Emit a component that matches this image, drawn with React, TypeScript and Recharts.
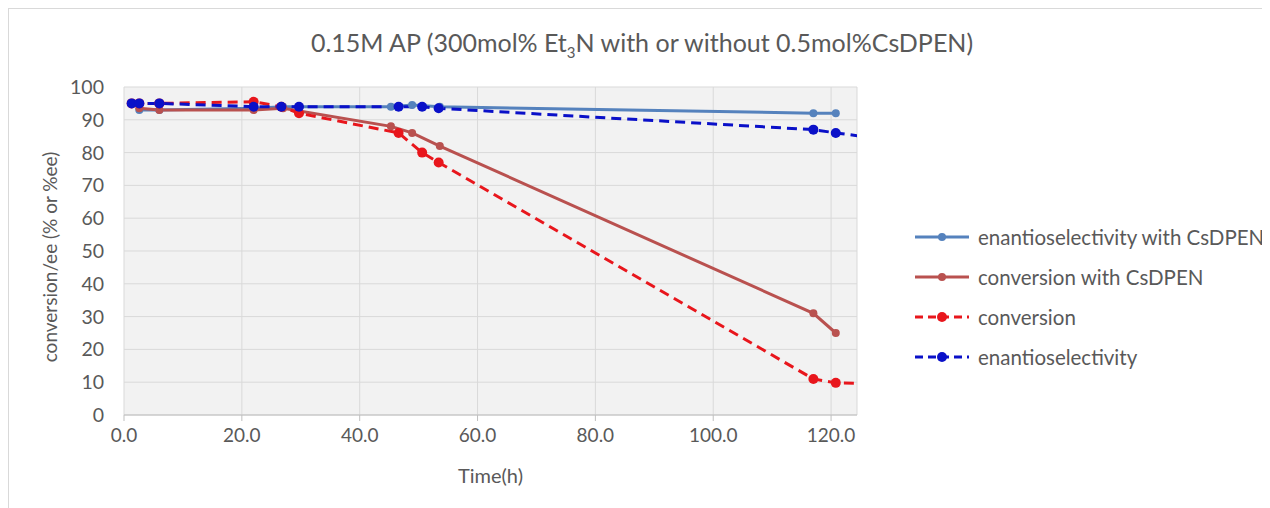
import { CartesianGrid, Line, LineChart, XAxis, YAxis } from "recharts";

// times (h) measured with catalyst and without
const timesWith = [2.6, 6.0, 22.0, 27.0, 45.3, 48.9, 53.6, 117.0, 120.8];
const eeWith = [93, 93, 93.5, 94, 94, 94.5, 94, 92, 92];
const convWith = [93.5, 93, 93, 93.5, 88, 86, 82, 31, 25];

const timesWithout = [1.3, 2.6, 6.0, 22.0, 26.7, 29.7, 46.6, 50.6, 53.4, 117.0, 120.8, 140.0];
const convWithout = [95, 95, 95, 95.5, 94, 92, 86, 80, 77, 11, 9.8, 9];
const eeWithout = [95, 95, 95, 94, 94, 94, 94, 94, 93.5, 87, 86, 81.5];

const xTicks = [0, 20, 40, 60, 80, 100, 120];
const yTicks = [0, 10, 20, 30, 40, 50, 60, 70, 80, 90, 100];

const pts = (xs: number[], ys: number[]) => xs.map((t, i) => ({ t, v: ys[i] }));

const series = [
  { key: "eeWith", label: "enantioselectivity with CsDPEN", color: "#5582bd", dash: undefined, r: 4, data: pts(timesWith, eeWith) },
  { key: "convWith", label: "conversion with CsDPEN", color: "#b9514f", dash: undefined, r: 4, data: pts(timesWith, convWith) },
  { key: "conv", label: "conversion", color: "#e8161c", dash: "10 6", r: 5, data: pts(timesWithout, convWithout) },
  { key: "ee", label: "enantioselectivity", color: "#0a10c8", dash: "10 6", r: 5, data: pts(timesWithout, eeWithout) },
];

const font = "Lato, 'Open Sans', sans-serif";
const grey = "#595959";

export default function App() {
  return (
    <div
      style={{
        position: "relative",
        width: 1261,
        height: 499,
        borderLeft: "1px solid #d9d9d9",
        borderTop: "1px solid #d9d9d9",
        background: "#fff",
        fontFamily: font,
      }}
    >
      <div
        style={{
          position: "absolute",
          top: 18,
          left: 0,
          width: 1266,
          textAlign: "center",
          fontSize: 25,
          color: grey,
        }}
      >
        0.15M AP (300mol% Et<sub style={{ fontSize: 15 }}>3</sub>N with or without 0.5mol%CsDPEN)
      </div>

      <LineChart width={1261} height={499} margin={{ top: 78, right: 413, bottom: 63, left: 75 }}>
        <CartesianGrid fill="#f2f2f2" stroke="#d9d9d9" />
        <XAxis
          type="number"
          dataKey="t"
          domain={[0, 124.4]}
          allowDataOverflow
          ticks={xTicks}
          tickFormatter={(v: number) => v.toFixed(1)}
          stroke="#bfbfbf"
          tick={{ fill: grey, fontSize: 19, fontFamily: font }}
          tickMargin={8}
          height={30}
          label={{
            value: "Time(h)",
            position: "bottom",
            offset: 24,
            fill: grey,
            style: { fontSize: 20, fontFamily: font },
          }}
        />
        <YAxis
          type="number"
          domain={[0, 100]}
          ticks={yTicks}
          axisLine={false}
          tickLine={false}
          tickMargin={14}
          width={40}
          tick={{ fill: grey, fontSize: 19.5, fontFamily: font }}
          label={{
            value: "conversion/ee (% or %ee)",
            angle: -90,
            position: "left",
            offset: 34,
            dy: 6,
            fill: grey,
            style: { textAnchor: "middle", fontSize: 19, fontFamily: font },
          }}
        />
        {series.map((s) => (
          <Line
            key={s.key}
            data={s.data}
            dataKey="v"
            type="linear"
            stroke={s.color}
            strokeWidth={3}
            strokeDasharray={s.dash}
            dot={{ r: s.r, fill: s.color, stroke: s.color, strokeWidth: 0 }}
            activeDot={false}
            isAnimationActive={false}
          />
        ))}
      </LineChart>

      <div style={{ position: "absolute", left: 906, top: 208 }}>
        {series.map((s) => (
          <div key={s.key} style={{ display: "flex", alignItems: "center", height: 40 }}>
            <svg width={56} height={12} style={{ marginRight: 7 }}>
              <line x1={0} y1={6} x2={54} y2={6} stroke={s.color} strokeWidth={3} strokeDasharray={s.dash ? "8 5" : undefined} />
              <circle cx={27} cy={6} r={s.r} fill={s.color} />
            </svg>
            <span style={{ fontSize: 20.5, color: grey }}>{s.label}</span>
          </div>
        ))}
      </div>
    </div>
  );
}
